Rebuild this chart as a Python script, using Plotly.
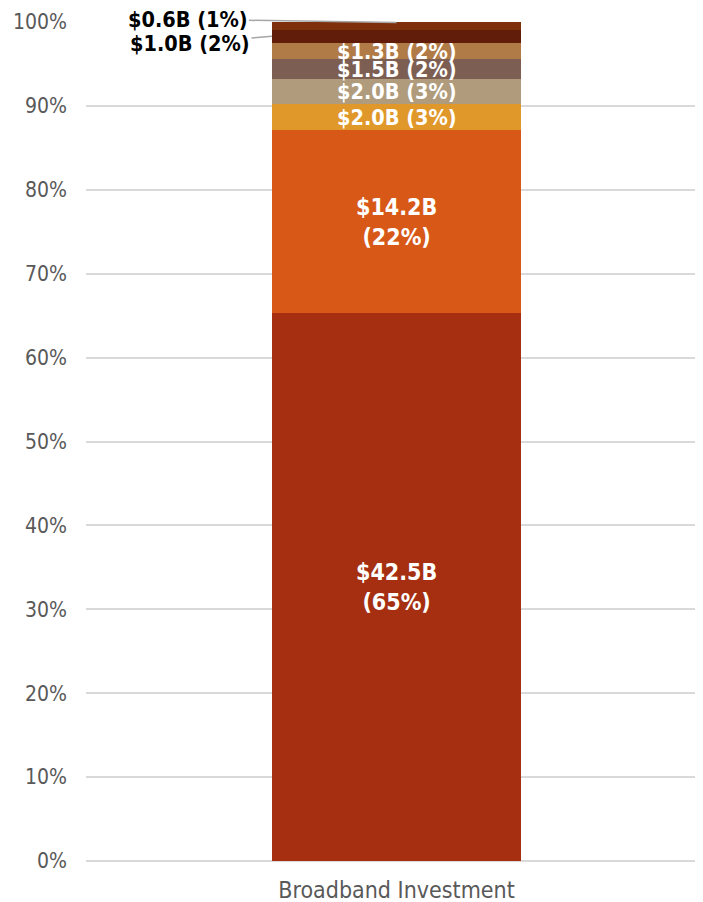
import plotly.graph_objects as go

category = ["Broadband Investment"]
series_names = ["S1", "S2", "S3", "S4", "S5", "S6", "S7", "S8"]
values_b = [42.5, 14.2, 2.0, 2.0, 1.5, 1.3, 1.0, 0.6]
pct_labels = [65, 22, 3, 3, 2, 2, 2, 1]
colors = ["#A52F10", "#D75817", "#E0982A", "#B09B7D", "#7D5E52", "#B07B47", "#611C0A", "#7E300C"]

FONT = "DejaVu Sans Condensed, DejaVu Sans"
total = sum(values_b)
fig = go.Figure()
for name, v, c in zip(series_names, values_b, colors):
    fig.add_trace(go.Bar(x=category, y=[v / total * 100], name=name, marker=dict(color=c, line=dict(width=0)),
                         width=0.401, hoverinfo="skip"))

annotations = []
cum = 0
for i, (v, p) in enumerate(zip(values_b, pct_labels)):
    share = v / total * 100
    mid = cum + share / 2
    cum += share
    if i < 2:
        txt = f"${v:.1f}B<br>({p}%)"
        annotations.append(dict(x=0, y=mid, xref="x", yref="y", text=txt, showarrow=False,
                                font=dict(family=FONT, size=23, color="white", weight="bold")))
    elif i < 6:
        txt = f"${v:.1f}B ({p}%)"
        annotations.append(dict(x=0, y=mid, xref="x", yref="y", text=txt, showarrow=False,
                                font=dict(family=FONT, size=21.5, color="white", weight="bold")))
    elif i == 6:
        annotations.append(dict(x=-0.2005, y=mid, xref="x", yref="y", text=f"${v:.1f}B ({p}%)",
                                showarrow=True, arrowhead=0, arrowwidth=1.5, arrowcolor="#A6A6A6",
                                ax=-82, ay=7.5, standoff=0,
                                font=dict(family=FONT, size=21.5, color="black", weight="bold")))
    else:
        annotations.append(dict(x=0, y=min(cum, 100) - 0.05, xref="x", yref="y", text=f"${v:.1f}B ({p}%)",
                                showarrow=True, arrowhead=0, arrowwidth=1.5, arrowcolor="#A6A6A6",
                                ax=-209, ay=-3, standoff=0,
                                font=dict(family=FONT, size=21.5, color="black", weight="bold")))

fig.update_layout(
    barmode="stack",
    width=703, height=902,
    margin=dict(l=78, r=4, t=14, b=49),
    plot_bgcolor="white", paper_bgcolor="white",
    showlegend=False,
    annotations=annotations,
    font=dict(family=FONT, size=21, color="#595959"),
    xaxis=dict(range=[-0.5, 0.5], showgrid=False, showline=False, ticks="", automargin=False,
               ticklabelstandoff=13,
               tickfont=dict(family=FONT, size=23, color="#595959")),
    yaxis=dict(range=[0, 100], tick0=0, dtick=10, ticksuffix="%", showgrid=True, gridcolor="#D9D9D9",
               gridwidth=1.5, zeroline=True, zerolinecolor="#D9D9D9", zerolinewidth=1.5,
               showline=False, ticks="", automargin=False, ticklabelstandoff=18,
               tickfont=dict(family=FONT, size=21, color="#595959")),
)

fig.write_html("out.html")
